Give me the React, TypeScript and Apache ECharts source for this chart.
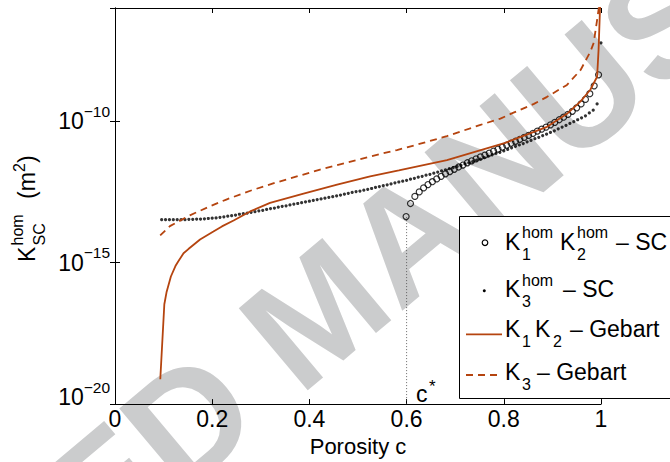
import React, { useEffect, useRef } from 'react';
import * as echarts from 'echarts';

const FONT = '"Liberation Sans", Arial, Helvetica, sans-serif';
const BROWN = '#b5440f';

// x axis range / ticks
const xMin = 0;
const xMax = 1;
const xStep = 0.2;
// y axis: exponents of 10 (log scale)
const yMinExp = -20;
const yMaxExp = -6;
const yStepExp = 5;

const cStar = 0.6;

// K3^hom – SC (small dots): [porosity c, log10 K]
const k3ScPoints: [number, number][] = [
  [0.096, -13.48], [0.104, -13.48], [0.112, -13.48], [0.12, -13.48], [0.128, -13.48], [0.136, -13.48], [0.144, -13.48],
  [0.152, -13.47], [0.16, -13.47], [0.168, -13.46], [0.176, -13.46], [0.184, -13.45], [0.192, -13.44], [0.2, -13.43],
  [0.208, -13.42], [0.216, -13.4], [0.224, -13.38], [0.232, -13.36], [0.24, -13.34], [0.248, -13.32], [0.256, -13.29],
  [0.264, -13.27], [0.272, -13.25], [0.28, -13.22], [0.288, -13.2], [0.296, -13.17], [0.304, -13.15], [0.312, -13.12],
  [0.32, -13.09], [0.328, -13.07], [0.336, -13.04], [0.344, -13.01], [0.352, -12.99], [0.36, -12.96], [0.368, -12.93],
  [0.376, -12.91], [0.384, -12.88], [0.392, -12.85], [0.4, -12.83], [0.408, -12.8], [0.416, -12.77], [0.424, -12.75],
  [0.432, -12.72], [0.44, -12.69], [0.448, -12.67], [0.456, -12.64], [0.464, -12.61], [0.472, -12.58], [0.48, -12.55],
  [0.488, -12.52], [0.496, -12.49], [0.504, -12.47], [0.512, -12.44], [0.52, -12.41], [0.528, -12.38], [0.536, -12.34],
  [0.544, -12.31], [0.552, -12.28], [0.56, -12.25], [0.568, -12.22], [0.576, -12.18], [0.584, -12.15], [0.592, -12.12],
  [0.6, -12.09], [0.608, -12.05], [0.616, -12.02], [0.624, -11.98], [0.632, -11.95], [0.64, -11.91], [0.648, -11.88],
  [0.656, -11.84], [0.664, -11.8], [0.672, -11.76], [0.68, -11.72], [0.688, -11.68], [0.696, -11.64], [0.704, -11.6],
  [0.712, -11.56], [0.72, -11.51], [0.728, -11.47], [0.736, -11.43], [0.744, -11.38], [0.752, -11.34], [0.76, -11.29],
  [0.768, -11.24], [0.776, -11.19], [0.784, -11.14], [0.792, -11.1], [0.8, -11.05], [0.808, -11.0], [0.816, -10.94],
  [0.824, -10.89], [0.832, -10.84], [0.84, -10.79], [0.848, -10.73], [0.856, -10.68], [0.864, -10.62], [0.872, -10.57],
  [0.88, -10.51], [0.888, -10.46], [0.896, -10.4], [0.904, -10.34], [0.912, -10.27], [0.92, -10.21], [0.928, -10.15],
  [0.936, -10.08], [0.944, -10.02], [0.952, -9.95], [0.96, -9.88], [0.968, -9.81], [0.976, -9.71], [0.984, -9.61],
  [0.992, -9.39], [1.0, -7.23],
];

// K1^hom K2^hom – SC (open circles)
const k12ScPoints: [number, number][] = [
  [0.599, -13.37], [0.608, -12.91], [0.617, -12.66], [0.626, -12.5], [0.635, -12.36], [0.644, -12.24], [0.653, -12.14],
  [0.662, -12.04], [0.671, -11.95], [0.68, -11.86], [0.689, -11.78], [0.698, -11.7], [0.707, -11.62], [0.716, -11.55],
  [0.725, -11.47], [0.734, -11.4], [0.743, -11.33], [0.752, -11.26], [0.761, -11.2], [0.77, -11.13], [0.779, -11.06],
  [0.788, -10.99], [0.797, -10.92], [0.806, -10.85], [0.815, -10.78], [0.824, -10.71], [0.833, -10.64], [0.842, -10.57],
  [0.851, -10.5], [0.86, -10.43], [0.869, -10.35], [0.878, -10.28], [0.887, -10.21], [0.896, -10.13], [0.905, -10.04],
  [0.914, -9.95], [0.923, -9.86], [0.932, -9.76], [0.941, -9.65], [0.95, -9.53], [0.959, -9.39], [0.968, -9.23],
  [0.977, -9.03], [0.986, -8.75], [0.995, -8.36],
];

// K1 K2 – Gebart (solid)
const gebartK12Points: [number, number][] = [
  [0.0932, -19.12], [0.1015, -16.47], [0.106, -16.05], [0.115, -15.49], [0.125, -15.1], [0.13, -14.96], [0.141, -14.67],
  [0.151, -14.52], [0.175, -14.18], [0.2025, -13.9], [0.22, -13.72], [0.244, -13.51], [0.278, -13.19], [0.319, -12.89],
  [0.388, -12.56], [0.457, -12.24], [0.525, -11.95], [0.584, -11.74], [0.683, -11.38], [0.803, -10.77], [0.82, -10.65],
  [0.889, -10.2], [0.93, -9.74], [0.958, -9.3], [0.978, -8.89], [0.992, -8.43], [0.995, -7.48], [0.998, -6.0],
  [0.9995, -4.0],
];

// K3 – Gebart (dashed)
const gebartK3Points: [number, number][] = [
  [0.093, -14.04], [0.113, -13.71], [0.154, -13.33], [0.195, -13.01], [0.229, -12.77], [0.28, -12.45], [0.329, -12.18],
  [0.381, -11.92], [0.422, -11.71], [0.48, -11.45], [0.546, -11.16], [0.58, -11.02], [0.615, -10.86], [0.683, -10.53],
  [0.752, -10.13], [0.793, -9.91], [0.82, -9.7], [0.862, -9.39], [0.889, -9.14], [0.93, -8.72], [0.958, -8.19],
  [0.978, -7.55], [0.985, -7.23], [0.992, -6.42], [0.9955, -6.0], [0.998, -5.0],
];

const cStarLine: [number, number][] = [
  [cStar, yMinExp],
  [cStar, k12ScPoints[0][1]],
];

function txt(x: number, y: number, text: string, fontSize: number, extra: any = {}) {
  return {
    type: 'text',
    x,
    y,
    silent: true,
    style: {
      text,
      fontSize,
      fontFamily: FONT,
      fill: '#000',
      align: 'left',
      verticalAlign: 'middle',
      textAlign: 'left',
      textVerticalAlign: 'middle',
      ...extra,
    },
  };
}

// baseline -> middle offset
const mid = (baseline: number, fs: number) => baseline - 0.35 * fs;

export default function App() {
  const ref = useRef<HTMLDivElement>(null);
  useEffect(() => {
    if (!ref.current) return;
    const chart = echarts.init(ref.current, null, { renderer: 'svg' });

    const axisCommon = {
      type: 'value',
      axisLine: { show: true, lineStyle: { color: '#000', width: 1 } },
      axisTick: { show: true, inside: true, length: 5, lineStyle: { color: '#000', width: 1 } },
      splitLine: { show: false },
    };

    const KF = 23; // main font
    const SF = 16; // sub/sup font

    const legendX = 459.5;
    const legend = {
      type: 'group',
      z: 100,
      children: [
        {
          type: 'rect',
          shape: { x: legendX, y: 216.5, width: 230, height: 182 },
          style: { fill: '#fff', stroke: '#000', lineWidth: 1 },
          z: 100,
        },
        { type: 'circle', shape: { cx: 485, cy: 242.7, r: 2.8 }, style: { fill: 'none', stroke: '#000', lineWidth: 1.2 }, z: 101 },
        txt(505, mid(250, KF), 'K', KF, {}),
        txt(522, mid(238.3, SF), 'hom', SF),
        txt(522, mid(260, SF), '1', SF),
        txt(560, mid(250, KF), 'K', KF),
        txt(577, mid(238.3, SF), 'hom', SF),
        txt(577, mid(260, SF), '2', SF),
        txt(616, mid(250, KF), '– SC', KF),

        { type: 'circle', shape: { cx: 484.3, cy: 290.7, r: 1.5 }, style: { fill: '#000' }, z: 101 },
        txt(505, mid(297.3, KF), 'K', KF),
        txt(522, mid(285.6, SF), 'hom', SF),
        txt(522, mid(307.3, SF), '3', SF),
        txt(563, mid(297.3, KF), '– SC', KF),

        { type: 'line', shape: { x1: 466, y1: 334.3, x2: 502, y2: 334.3 }, style: { stroke: BROWN, lineWidth: 1.8 }, z: 101 },
        txt(505, mid(337.3, KF), 'K', KF),
        txt(522, mid(347.3, SF), '1', SF),
        txt(535, mid(337.3, KF), 'K', KF),
        txt(553, mid(347.3, SF), '2', SF),
        txt(570, mid(337.3, KF), '– Gebart', KF),

        { type: 'line', shape: { x1: 466, y1: 375, x2: 502, y2: 375 }, style: { stroke: BROWN, lineWidth: 1.8, lineDash: [7, 5] }, z: 101 },
        txt(505, mid(380, KF), 'K', KF),
        txt(522, mid(390, SF), '3', SF),
        txt(537, mid(380, KF), '– Gebart', KF),
      ].map((e: any) => ({ ...e, z: e.z ?? 102 })),
    };

    const yTitle = {
      type: 'group',
      x: 35,
      y: 262,
      rotation: Math.PI / 2,
      children: [
        txt(0, mid(0, KF), 'K', KF),
        txt(16.5, mid(-12, SF), 'hom', SF),
        txt(16.5, mid(10, SF), 'SC', SF),
        txt(63, mid(0, KF), '(m', KF),
        txt(90, mid(-10, SF), '2', SF),
        txt(99, mid(0, KF), ')', KF),
      ],
    };

    const watermark = {
      type: 'text',
      x: 318,
      y: 311,
      rotation: (40 * Math.PI) / 180,
      silent: true,
      z: -1,
      style: {
        text: 'ACCEPTED MANUSCRIPT',
        fontSize: 156,
        fontWeight: 'bold',
        fontFamily: FONT,
        fill: '#cbcccd',
        align: 'center',
        verticalAlign: 'middle',
        textAlign: 'center',
        textVerticalAlign: 'middle',
      },
    };

    const cStarLabel = {
      type: 'group',
      children: [txt(416, mid(402, KF), 'c', KF), txt(429, mid(392, 17), '*', 17)],
    };

    const supStyle = { fontSize: 15.5, fontFamily: FONT, color: '#000', verticalAlign: 'middle', lineHeight: 15 };
    const baseStyle = { fontSize: 23, fontFamily: FONT, color: '#000', verticalAlign: 'middle', lineHeight: 23 };

    chart.setOption({
      animation: false,
      backgroundColor: '#fff',
      grid: { left: 115, top: 8, right: 69, bottom: 57, containLabel: false },
      xAxis: [
        {
          ...axisCommon,
          position: 'bottom',
          min: xMin,
          max: xMax,
          interval: xStep,
          axisLabel: { fontSize: 23, fontFamily: FONT, color: '#000', margin: 3 },
          name: 'Porosity c',
          nameLocation: 'middle',
          nameGap: 23,
          nameTextStyle: { fontSize: 22, fontFamily: FONT, color: '#000' },
        },
        {
          ...axisCommon,
          position: 'top',
          min: xMin,
          max: xMax,
          interval: xStep,
          axisLabel: { show: false },
        },
      ],
      yAxis: [
        {
          ...axisCommon,
          position: 'left',
          min: yMinExp,
          max: yMaxExp,
          interval: yStepExp,
          axisLabel: {
            margin: 5,
            formatter: (v: number) => {
              if (Math.round(v) % yStepExp !== 0) return '';
              const e = (v < 0 ? '−' : '') + Math.abs(Math.round(v));
              return v === yMinExp ? `{b2|10}{s2|${e}}` : `{b|10}{s|${e}}`;
            },
            rich: {
              b: { ...baseStyle },
              s: { ...supStyle, padding: [0, 0, 20, 0] },
              b2: { ...baseStyle, padding: [0, 0, 14, 0] },
              s2: { ...supStyle, padding: [0, 0, 34, 0] },
            },
          },
        },
        {
          ...axisCommon,
          position: 'right',
          min: yMinExp,
          max: yMaxExp,
          interval: yStepExp,
          axisLabel: { show: false },
        },
      ],
      series: [
        {
          name: 'K3 hom – SC',
          type: 'scatter',
          data: k3ScPoints,
          symbol: 'circle',
          symbolSize: 3.2,
          itemStyle: { color: '#000' },
          z: 3,
        },
        {
          name: 'K1 hom K2 hom – SC',
          type: 'scatter',
          data: k12ScPoints,
          symbol: 'circle',
          symbolSize: 6,
          itemStyle: { color: 'rgba(0,0,0,0)', borderColor: '#000', borderWidth: 1.2 },
          z: 4,
        },
        {
          name: 'K1 K2 – Gebart',
          type: 'line',
          data: gebartK12Points,
          showSymbol: false,
          symbol: 'none',
          lineStyle: { color: BROWN, width: 1.8 },
          z: 5,
        },
        {
          name: 'K3 – Gebart',
          type: 'line',
          data: gebartK3Points,
          showSymbol: false,
          symbol: 'none',
          lineStyle: { color: BROWN, width: 1.8, type: [7, 5] },
          z: 5,
        },
        {
          name: 'c*',
          type: 'line',
          data: cStarLine,
          showSymbol: false,
          symbol: 'none',
          lineStyle: { color: '#444', width: 0.8, type: [1, 2] },
          z: 2,
        },
      ],
      graphic: [watermark, yTitle, cStarLabel, legend],
    });

    return () => chart.dispose();
  }, []);

  return <div ref={ref} style={{ position: 'fixed', left: 0, top: 0, width: 670, height: 462 }} />;
}
